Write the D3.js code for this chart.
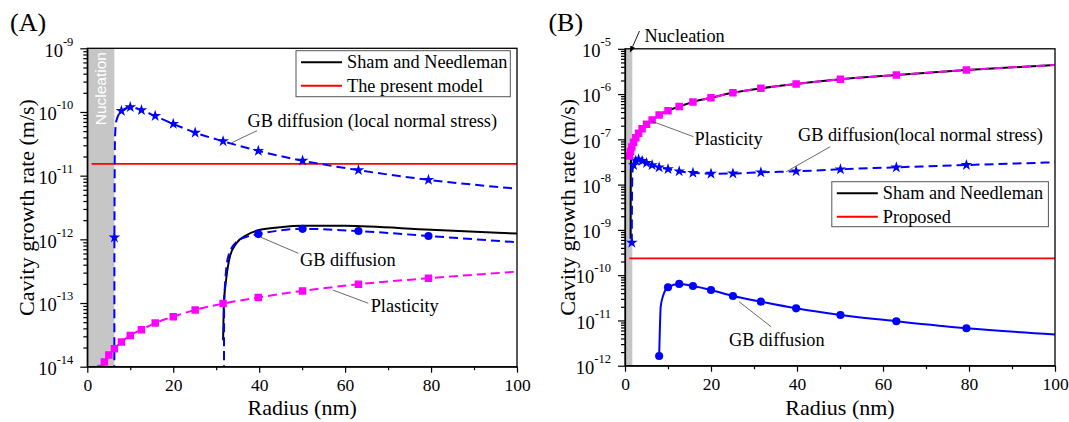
<!DOCTYPE html>
<html>
<head>
<meta charset="utf-8">
<script src="https://cdn.jsdelivr.net/npm/d3@7"></script>
<style>
  body { margin: 0; background: #fff; }
  svg { display: block; font-family: "Liberation Serif", "Times New Roman", serif; }
</style>
</head>
<body>
<svg id="chart" width="1069" height="422"></svg>
<script>
// ---------- shared axis values ----------
const radiusTicks = [0, 20, 40, 60, 80, 100];
const radiusMinor = [10, 30, 50, 70, 90];

// ---------- panel (A) ----------
// each point: [radius nm, growth rate m/s, marker drawn (1) or not (0)]
const aDecades = [-14, -13, -12, -11, -10, -9];
const aNucleation = [0, 6.3];
const aGbLocal = [
  [6.29, 1e-15, 0], [6.31, 1.07e-12, 1], [6.45, 4.0e-11, 0], [6.75, 7.2e-11, 0],
  [7.94, 1.04e-10, 1], [10, 1.19e-10, 1], [12.6, 1.07e-10, 1], [15.8, 8.65e-11, 1],
  [20, 6.5e-11, 1], [25.1, 4.73e-11, 1], [31.6, 3.47e-11, 1], [39.8, 2.45e-11, 1],
  [50.1, 1.72e-11, 1], [63.1, 1.22e-11, 1], [79.4, 8.6e-12, 1], [100, 6.25e-12, 0]
];
const aGbDiffusion = [
  [31.78, 1e-15, 0], [31.85, 1.1e-13, 0], [32.8, 5.4e-13, 0], [34.7, 9.1e-13, 0],
  [37.1, 1.1e-12, 0], [39.8, 1.21e-12, 1], [50.1, 1.46e-12, 1], [63.1, 1.35e-12, 1],
  [79.4, 1.13e-12, 1], [100, 9.0e-13, 0]
];
const aPlasticity = [
  [2.51, 7.4e-15, 0], [3.16, 9.4e-15, 1], [3.98, 1.19e-14, 1], [5.01, 1.53e-14, 1],
  [6.31, 1.92e-14, 1], [7.94, 2.44e-14, 1], [10, 3.1e-14, 1], [12.6, 3.8e-14, 1],
  [15.8, 4.85e-14, 1], [20, 6.1e-14, 1], [25.1, 7.8e-14, 1], [31.6, 9.8e-14, 1],
  [39.8, 1.22e-13, 1], [50.1, 1.55e-13, 1], [63.1, 1.97e-13, 1], [79.4, 2.45e-13, 1],
  [100, 3.11e-13, 0]
];
const aSham = [
  [31.6, 2.6e-14, 0], [31.8, 1.0e-13, 0], [32.3, 2.3e-13, 0], [33.2, 5.4e-13, 0],
  [34.7, 8.7e-13, 0], [37.1, 1.17e-12, 0], [40.2, 1.41e-12, 0], [44.8, 1.55e-12, 0],
  [50, 1.64e-12, 0], [60, 1.63e-12, 0], [80, 1.41e-12, 0], [100, 1.23e-12, 0]
];
const aModel = [[1, 1.53e-11, 0], [100, 1.53e-11, 0]];

// ---------- panel (B) ----------
const bDecades = [-12, -11, -10, -9, -8, -7, -6, -5];
const bNucleation = [0, 1.7];
const bPlasticity = [
  [1.0, 4.3e-8, 1], [1.26, 5.4e-8, 1], [1.58, 6.8e-8, 1], [2.0, 8.6e-8, 1],
  [2.51, 1.08e-7, 1], [3.16, 1.36e-7, 1], [3.98, 1.71e-7, 1], [5.01, 2.15e-7, 1],
  [6.31, 2.67e-7, 1], [7.94, 3.45e-7, 1], [10, 4.3e-7, 1], [12.6, 5.3e-7, 1],
  [15.8, 6.7e-7, 1], [20, 8.3e-7, 1], [25.1, 1.07e-6, 1], [31.6, 1.34e-6, 1],
  [39.8, 1.67e-6, 1], [50.1, 2.12e-6, 1], [63.1, 2.64e-6, 1], [79.4, 3.4e-6, 1],
  [100, 4.4e-6, 0]
];
const bSham = [
  [1.30, 6.4e-10, 0], [1.31, 4.0e-9, 0], [1.34, 2.0e-8, 0], [1.45, 4.6e-8, 0],
  [2.0, 8.6e-8, 0], [2.51, 1.08e-7, 0], [3.16, 1.36e-7, 0], [3.98, 1.71e-7, 0],
  [5.01, 2.15e-7, 0], [6.31, 2.67e-7, 0], [7.94, 3.45e-7, 0], [10, 4.3e-7, 0],
  [12.6, 5.3e-7, 0], [15.8, 6.7e-7, 0], [20, 8.3e-7, 0], [25.1, 1.07e-6, 0],
  [31.6, 1.34e-6, 0], [39.8, 1.67e-6, 0], [50.1, 2.12e-6, 0], [63.1, 2.64e-6, 0],
  [79.4, 3.4e-6, 0], [100, 4.4e-6, 0]
];
const bGbLocal = [
  [1.58, 5.2e-10, 1], [1.62, 5.0e-9, 0], [1.75, 2.0e-8, 0], [2.0, 2.7e-8, 1],
  [2.51, 3.4e-8, 1], [3.16, 3.6e-8, 1], [3.98, 3.35e-8, 1], [5.01, 3.0e-8, 1],
  [6.31, 2.7e-8, 1], [7.94, 2.4e-8, 1], [10, 2.2e-8, 1], [12.6, 1.97e-8, 1],
  [15.8, 1.82e-8, 1], [20, 1.74e-8, 1], [25.1, 1.76e-8, 1], [31.6, 1.87e-8, 1],
  [39.8, 1.97e-8, 1], [50.1, 2.18e-8, 1], [63.1, 2.41e-8, 1], [79.4, 2.71e-8, 1],
  [100, 3.11e-8, 0]
];
const bGbDiffusion = [
  [7.94, 1.64e-12, 1], [8.1, 6.0e-12, 0], [8.3, 2.0e-11, 0], [8.9, 3.6e-11, 0],
  [9.4, 4.7e-11, 0], [10, 5.4e-11, 1], [12.6, 6.4e-11, 1], [15.8, 5.75e-11, 1],
  [20, 4.7e-11, 1], [25.1, 3.47e-11, 1], [31.6, 2.6e-11, 1], [39.8, 1.85e-11, 1],
  [50.1, 1.32e-11, 1], [63.1, 9.6e-12, 1], [79.4, 6.7e-12, 1], [100, 4.9e-12, 0]
];
const bProposed = [[1, 2.35e-10, 0], [100, 2.35e-10, 0]];

const BLUE = "#0000ff", MAGENTA = "#ff00ff", RED = "#ff0000", BLACK = "#000000";
const DASH = "9,5";
const SERIF = "'Liberation Serif', 'Times New Roman', serif";

const svg = d3.select("#chart");

const panels = [
  {
    id: "A", title: "(A)", titleX: 10, xr: [87.3, 517], yr: [366.7, 48.3], yTitleX: 34,
    ydom: [1e-14, 1e-9], decades: aDecades, nucleation: aNucleation, bandLabel: "inside",
    series: [
      { data: aSham, color: BLACK, dash: null },
      { data: aModel, color: RED, dash: null, width: 1.6 },
      { data: aGbLocal, color: BLUE, dash: DASH, symbol: d3.symbolStar, size: 42 },
      { data: aGbDiffusion, color: BLUE, dash: DASH, symbol: d3.symbolCircle, size: 52 },
      { data: aPlasticity, color: MAGENTA, dash: DASH, symbol: d3.symbolSquare, size: 56 }
    ],
    legend: { x: 296, y: 50.7, w: 214.3, h: 46, rows: [
      { label: "Sham and Needleman", color: BLACK },
      { label: "The present model", color: RED }
    ]},
    notes: [
      { text: "GB diffusion (local normal stress)", x: 247.6, y: 126.5, from: [257, 130.7], to: [231.7, 142.7] },
      { text: "GB diffusion", x: 300, y: 265.5, from: [298.3, 253.3], to: [261, 237.3] },
      { text: "Plasticity", x: 370.7, y: 311.5, from: [368.3, 303.3], to: [332.8, 290] }
    ]
  },
  {
    id: "B", title: "(B)", titleX: 548.4, xr: [625, 1055], yr: [365.7, 48.8], yTitleX: 575,
    ydom: [1e-12, 1e-5], decades: bDecades, nucleation: bNucleation, bandLabel: "arrow",
    series: [
      { data: bSham, color: BLACK, dash: null },
      { data: bProposed, color: RED, dash: null, width: 1.6 },
      { data: bGbDiffusion, color: BLUE, dash: null, symbol: d3.symbolCircle, size: 52 },
      { data: bGbLocal, color: BLUE, dash: DASH, symbol: d3.symbolStar, size: 42 },
      { data: bPlasticity, color: MAGENTA, dash: DASH, symbol: d3.symbolSquare, size: 56 }
    ],
    legend: { x: 831.8, y: 181.7, w: 216.6, h: 45, rows: [
      { label: "Sham and Needleman", color: BLACK },
      { label: "Proposed", color: RED }
    ]},
    notes: [
      { text: "Plasticity", x: 694.5, y: 145, from: [693.5, 136.7], to: [651.3, 121] },
      { text: "GB diffusion(local normal stress)", x: 798, y: 141, from: [830.2, 146.7], to: [786.3, 171.7] },
      { text: "GB diffusion", x: 729, y: 346, from: [771.1, 326.7], to: [739, 301.7] }
    ]
  }
];

const defs = svg.append("defs");
defs.append("marker")
  .attr("id", "arrowhead").attr("viewBox", "0 0 10 10")
  .attr("refX", 9).attr("refY", 5).attr("markerWidth", 7).attr("markerHeight", 7)
  .attr("orient", "auto")
  .append("path").attr("d", "M0,1 L10,5 L0,9 Z").attr("fill", "#000");

panels.forEach(p => {
  const x = d3.scaleLinear([0, 100], p.xr);
  const y = d3.scaleLog(p.ydom, p.yr);
  const g = svg.append("g").attr("class", "panel-" + p.id).attr("font-family", SERIF);
  const left = p.xr[0], right = p.xr[1], top = p.yr[1], bottom = p.yr[0];

  defs.append("clipPath").attr("id", "clip-" + p.id)
    .append("rect").attr("x", left).attr("y", top)
    .attr("width", right - left).attr("height", bottom - top);

  // nucleation band
  g.append("rect")
    .attr("x", x(p.nucleation[0])).attr("y", top)
    .attr("width", x(p.nucleation[1]) - x(p.nucleation[0]))
    .attr("height", bottom - top)
    .attr("fill", "#c6c6c6");

  if (p.bandLabel === "inside") {
    const cx = (x(p.nucleation[0]) + x(p.nucleation[1])) / 2;
    g.append("text")
      .attr("transform", `translate(${cx + 5.5},${top + 77}) rotate(-90)`)
      .attr("font-family", "'Liberation Sans', Arial, sans-serif")
      .attr("font-size", 15.5).attr("fill", "#ffffff")
      .text("Nucleation");
  } else {
    g.append("line")
      .attr("x1", 639.5).attr("y1", 31).attr("x2", x(p.nucleation[1]) - 2).attr("y2", top + 3)
      .attr("stroke", "#000").attr("stroke-width", 0.9)
      .attr("marker-end", "url(#arrowhead)");
    g.append("text").attr("x", 644.5).attr("y", 41.5)
      .attr("font-size", 18.3).text("Nucleation");
  }

  // curves and markers
  const plot = g.append("g").attr("clip-path", `url(#clip-${p.id})`);
  const line = d3.line().x(d => x(d[0])).y(d => y(d[1])).curve(d3.curveMonotoneX);
  p.series.forEach(s => {
    plot.append("path")
      .attr("d", line(s.data))
      .attr("fill", "none")
      .attr("stroke", s.color)
      .attr("stroke-width", s.width || 2)
      .attr("stroke-dasharray", s.dash);
    if (s.symbol) {
      plot.selectAll(null)
        .data(s.data.filter(d => d[2]))
        .join("path")
        .attr("transform", d => `translate(${x(d[0])},${y(d[1])})`)
        .attr("d", d3.symbol(s.symbol, s.size))
        .attr("fill", s.color);
    }
  });

  // x axis: majors with labels, minors without
  const xAxis = g.append("g").attr("transform", `translate(0,${bottom})`)
    .call(d3.axisBottom(x).tickValues(radiusTicks).tickSize(6).tickSizeOuter(0)
      .tickPadding(5).tickFormat(d3.format("d")));
  xAxis.selectAll("text").attr("font-size", 17.5).attr("fill", "#000")
    .attr("font-family", SERIF).attr("dy", "0.76em");
  g.append("g").attr("transform", `translate(0,${bottom})`)
    .call(d3.axisBottom(x).tickValues(radiusMinor).tickSize(3.5).tickFormat(""))
    .call(a => a.select(".domain").remove());

  // y axis: decade labels as 10 with superscript exponent
  const decadeVals = p.decades.map(e => Math.pow(10, e));
  const yAxis = g.append("g").attr("transform", `translate(${left},0)`)
    .call(d3.axisLeft(y).tickValues(decadeVals).tickSize(7).tickSizeOuter(0)
      .tickPadding(7).tickFormat(() => "10"));
  yAxis.selectAll(".tick text")
    .attr("font-size", 18.5).attr("fill", "#000")
    .attr("font-family", SERIF).attr("dy", "0.42em")
    .each(function (d) {
      d3.select(this).append("tspan")
        .attr("font-size", 12.5).attr("dy", -11)
        .text(String(Math.round(Math.log10(d))));
    });
  const minorVals = [];
  p.decades.slice(0, -1).forEach(e => {
    for (let k = 2; k <= 9; k++) minorVals.push(k * Math.pow(10, e));
  });
  g.append("g").attr("transform", `translate(${left},0)`)
    .call(d3.axisLeft(y).tickValues(minorVals).tickSize(4).tickFormat(""))
    .call(a => a.select(".domain").remove());

  g.selectAll(".domain, .tick line").attr("stroke", "#000").attr("stroke-width", 1.2);

  // frame
  g.append("rect").attr("x", left).attr("y", top)
    .attr("width", right - left).attr("height", bottom - top)
    .attr("fill", "none").attr("stroke", "#000").attr("stroke-width", 1.3);

  // axis titles
  g.append("text").attr("x", (left + right) / 2).attr("y", 415)
    .attr("text-anchor", "middle").attr("font-size", 22).text("Radius (nm)");
  g.append("text")
    .attr("transform", `translate(${p.yTitleX},${(top + bottom) / 2}) rotate(-90)`)
    .attr("text-anchor", "middle").attr("font-size", 22).text("Cavity growth rate (m/s)");

  // panel tag
  g.append("text").attr("x", p.titleX).attr("y", 31).attr("font-size", 26).text(p.title);

  // annotations with leader lines
  p.notes.forEach(n => {
    g.append("line")
      .attr("x1", n.from[0]).attr("y1", n.from[1]).attr("x2", n.to[0]).attr("y2", n.to[1])
      .attr("stroke", "#444").attr("stroke-width", 0.8);
    g.append("text").attr("x", n.x).attr("y", n.y).attr("font-size", 18.3).text(n.text);
  });

  // legend
  const L = p.legend;
  const lg = g.append("g");
  lg.append("rect").attr("x", L.x).attr("y", L.y).attr("width", L.w).attr("height", L.h)
    .attr("fill", "#fff").attr("stroke", "#555").attr("stroke-width", 1);
  L.rows.forEach((r, i) => {
    const cy = L.y + 11.5 + i * 23.5;
    lg.append("line").attr("x1", L.x + 5).attr("x2", L.x + 46).attr("y1", cy).attr("y2", cy)
      .attr("stroke", r.color).attr("stroke-width", 2);
    lg.append("text").attr("x", L.x + 51).attr("y", cy + 6).attr("font-size", 18.3).text(r.label);
  });
});
</script>
</body>
</html>
